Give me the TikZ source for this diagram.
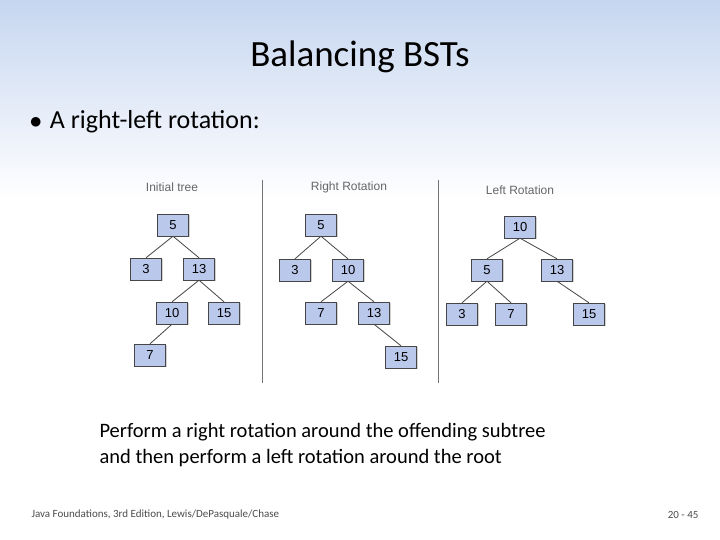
\documentclass[tikz,border=0pt]{standalone}
\usepackage{fontspec}
\setmainfont{Carlito}
\newfontfamily\figfont{Liberation Sans}
\usetikzlibrary{shadows}
\definecolor{boxblue}{RGB}{186,200,236}
\definecolor{topblue}{RGB}{198,214,240}
\definecolor{edgegray}{RGB}{70,70,70}
\begin{document}
\begin{tikzpicture}[x=1pt,y=-1pt]
      \tikzstyle{every node}=[font=\figfont\fontsize{13}{15}\selectfont]
      \tikzstyle{key}=[draw=edgegray,fill=boxblue,minimum width=31pt,minimum height=22pt,inner sep=0pt,drop shadow={shadow xshift=1pt,shadow yshift=-1pt,opacity=.35}]
      \tikzstyle{link}=[draw=edgegray,line width=.8pt]
      \tikzstyle{treelabel}=[text=black!60,font=\figfont\fontsize{12}{14}\selectfont]
      %%
\useasboundingbox (0,0) rectangle (720,540);
  \shade[top color=topblue,bottom color=white] (0,0) rectangle (720,200);
  \fill[white] (0,200) rectangle (720,540);
  \node[font=\normalfont\fontsize{37}{40}\selectfont] (title) at (360,57) {Balancing BSTs};
  \node[anchor=west,font=\normalfont\fontsize{26}{30}\selectfont] (bullet) at (26,122) {$\bullet$\hspace{8pt}A right-left rotation:};
  %%
  \node[treelabel] (l1) at (172,187) {Initial tree};
  \node[treelabel] (l2) at (349,187) {Right Rotation};
  \node[treelabel] (l3) at (520,190) {Left Rotation};
  \coordinate (d1a) at (262,180); \coordinate (d1b) at (262,383);
  \coordinate (d2a) at (438,180); \coordinate (d2b) at (438,383);
  \draw[black!55,line width=1pt] (d1a) -- (d1b);
  \draw[black!55,line width=1pt] (d2a) -- (d2b);
  %% initial tree
  \node[key] (a5) at (173,225) {5};
  \node[key] (a3) at (146,269) {3};
  \node[key] (a13) at (199,269) {13};
  \node[key] (a10) at (172,313) {10};
  \node[key] (a15) at (224,313) {15};
  \node[key] (a7) at (150,355) {7};
  %% right rotation
  \node[key] (b5) at (321,225) {5};
  \node[key] (b3) at (295,270) {3};
  \node[key] (b10) at (348,270) {10};
  \node[key] (b7) at (321,313) {7};
  \node[key] (b13) at (374,313) {13};
  \node[key] (b15) at (401,357) {15};
  %% left rotation
  \node[key] (c10) at (520,227) {10};
  \node[key] (c5) at (487,270) {5};
  \node[key] (c13) at (557,270) {13};
  \node[key] (c3) at (462,314) {3};
  \node[key] (c7) at (511,314) {7};
  \node[key] (c15) at (589,314) {15};
  %%
  \foreach \p/\c in {a5/a3,a5/a13,a13/a10,a13/a15,a10/a7,
                     b5/b3,b5/b10,b10/b7,b10/b13,b13/b15,
                     c10/c5,c10/c13,c5/c3,c5/c7,c13/c15}
    \draw[link] (\p.south) -- (\c.north);
  %%
  \node[anchor=west,align=left,font=\normalfont\fontsize{20.5}{26}\selectfont] (note) at (96,445) {Perform a right rotation around the offending subtree\\and then perform a left rotation around the root};
  \node[anchor=west,text=black!70,font=\normalfont\fontsize{11}{13}\selectfont] (foot) at (28,515) {Java Foundations, 3rd Edition, Lewis/DePasquale/Chase};
  \node[anchor=east,text=black!70,font=\normalfont\fontsize{11}{13}\selectfont] (page) at (702,515) {20 - 45};
%
\end{tikzpicture}
\end{document}
